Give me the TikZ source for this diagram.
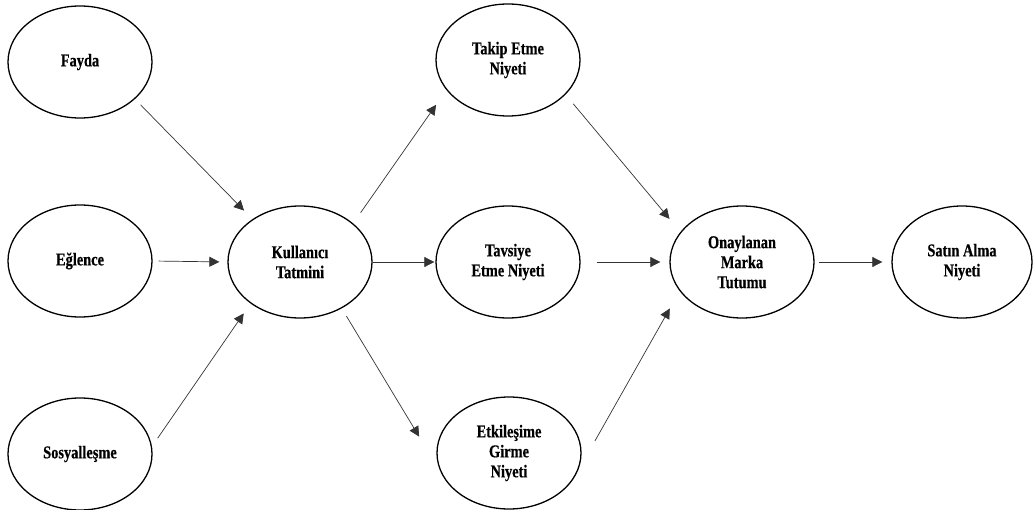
\documentclass[tikz,border=0pt]{standalone}
\usepackage{fontspec}
\newfontfamily\labelfont[FakeStretch=0.8, BoldFeatures={FakeBold=0.5}]{Liberation Serif}
\usepackage{tikz}
\usetikzlibrary{shapes.geometric,arrows.meta}

\begin{document}
\begin{tikzpicture}[x=1pt,y=1pt,
    factor/.style={draw, ellipse, line width=1.3pt, minimum width=144pt, minimum height=112pt,
      inner sep=1pt, align=center, font=\labelfont\bfseries\fontsize{18}{20}\selectfont},
    link/.style={line width=0.7pt, draw=black!80, -{Triangle[length=10pt,width=10pt]}}]
  \useasboundingbox (0,0) rectangle (1035,509);
  \foreach \nm/\x/\y/\txt in {
    fayda/80/447/{Fayda}, eglence/80/248/{E\u{g}lence}, sosyal/80/55/{Sosyalle\c{s}me},
    kull/300/247/{Kullan\i c\i\\Tatmini},
    takip/508/449/{Takip Etme\\Niyeti}, tavsiye/508/247/{Tavsiye\\Etme Niyeti},
    etk/509/56/{Etkile\c{s}ime\\Girme\\Niyeti},
    onay/742/247/{Onaylanan\\Marka\\Tutumu}}{
    \node[factor] (\nm) at (\x,\y) {\txt};
  }
  \node[factor, minimum width=140pt] (satin) at (962,247) {Sat\i n Alma\\Niyeti};
  % arrows: from/anchor/to/anchor/gap at start/gap at end
  \foreach \a/\sa/\b/\sb/\p/\q in {
    fayda/-34/kull/138/8/12, eglence/east/kull/west/6/8, sosyal/6/kull/-140/10/12,
    kull/36/takip/-154/13/18, kull/east/tavsiye/west/0/1, kull/-48/etk/196/9/42,
    takip/-31/onay/154/12/17, tavsiye/east/onay/west/16/9, etk/-15/onay/-155/35/20,
    onay/east/satin/west/4/9}{
    \draw[link, shorten <=\p pt, shorten >=\q pt] (\a.\sa) -- (\b.\sb);
  }
\end{tikzpicture}
\end{document}
